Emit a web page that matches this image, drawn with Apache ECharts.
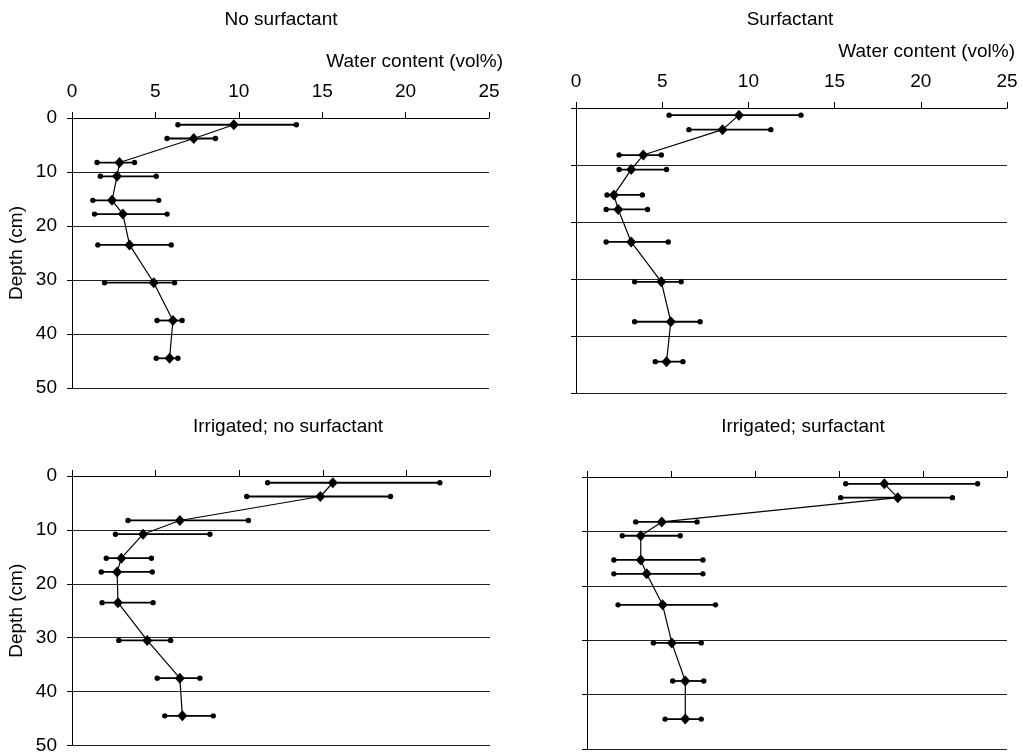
<!DOCTYPE html>
<html>
<head>
<meta charset="utf-8">
<script src="https://cdn.jsdelivr.net/npm/echarts@6/dist/echarts.min.js"></script>
<style>
  html, body { margin: 0; padding: 0; background: #fff; }
  #chart { width: 1023px; height: 755px; }
</style>
</head>
<body>
<div id="chart"></div>
<script>
// ---- data ----
const depth = [1.25, 3.8, 8.25, 10.8, 15.25, 17.8, 23.5, 30.5, 37.5, 44.5];

const noSurfMean = [9.7, 7.3, 2.85, 2.7, 2.4, 3.05, 3.45, 4.9, 6.05, 5.85];
const noSurfLo   = [6.35, 5.7, 1.5, 1.7, 1.25, 1.35, 1.55, 1.95, 5.1, 5.05];
const noSurfHi   = [13.45, 8.6, 3.75, 5.05, 5.2, 5.7, 5.95, 6.15, 6.6, 6.35];

const surfMean = [9.45, 8.5, 3.9, 3.2, 2.2, 2.45, 3.2, 4.95, 5.5, 5.25];
const surfLo   = [5.4, 6.55, 2.5, 2.5, 1.8, 1.75, 1.75, 3.4, 3.4, 4.6];
const surfHi   = [13.05, 11.3, 4.95, 5.25, 3.85, 4.15, 5.35, 6.1, 7.2, 6.2];

const irrNoMean = [15.6, 14.85, 6.45, 4.25, 2.95, 2.7, 2.75, 4.5, 6.45, 6.6];
const irrNoLo   = [11.7, 10.45, 3.35, 2.6, 2.05, 1.75, 1.8, 2.8, 5.1, 5.55];
const irrNoHi   = [22.0, 19.05, 10.55, 8.25, 4.75, 4.8, 4.85, 5.9, 7.65, 8.45];

const irrSurfMean = [17.7, 18.5, 4.45, 3.2, 3.2, 3.55, 4.5, 5.05, 5.85, 5.85];
const irrSurfLo   = [15.4, 15.1, 2.9, 2.1, 1.6, 1.6, 1.85, 3.95, 5.1, 4.65];
const irrSurfHi   = [23.25, 21.75, 6.55, 5.55, 6.9, 6.9, 7.65, 6.8, 6.95, 6.8];

const panelTitles = ["No surfactant", "Surfactant", "Irrigated; no surfactant", "Irrigated; surfactant"];
const xAxisName = "Water content (vol%)";
const yAxisName = "Depth (cm)";

// ---- layout ----
const FONT = "Liberation Sans, Arial, sans-serif";
const FS = 19;
const panels = [
  { mean: noSurfMean, lo: noSurfLo, hi: noSurfHi, grid: { left: 72, top: 118, width: 417, height: 270 }, xLabels: true, yLabels: true },
  { mean: surfMean, lo: surfLo, hi: surfHi, grid: { left: 576, top: 108, width: 431, height: 285 }, xLabels: true, yLabels: false },
  { mean: irrNoMean, lo: irrNoLo, hi: irrNoHi, grid: { left: 72, top: 476, width: 418, height: 270 }, xLabels: false, yLabels: true },
  { mean: irrSurfMean, lo: irrSurfLo, hi: irrSurfHi, grid: { left: 587, top: 477, width: 420, height: 272 }, xLabels: false, yLabels: false }
];

const grids = [], xAxes = [], yAxes = [], series = [];
panels.forEach((p, i) => {
  grids.push(Object.assign({ containLabel: false }, p.grid));
  xAxes.push({
    gridIndex: i, type: 'value', position: 'top', min: 0, max: 25, interval: 5,
    axisLine: { show: true, onZero: false, lineStyle: { color: '#000', width: 1 } },
    axisTick: { show: true, inside: false, length: 6, lineStyle: { color: '#000' } },
    axisLabel: { show: p.xLabels, color: '#000', fontFamily: FONT, fontSize: FS, margin: 17 },
    splitLine: { show: false }
  });
  yAxes.push({
    gridIndex: i, type: 'value', inverse: true, min: 0, max: 50, interval: 10,
    axisLine: { show: true, onZero: false, lineStyle: { color: '#000', width: 1 } },
    axisTick: { show: true, inside: false, length: 5, lineStyle: { color: '#000' } },
    axisLabel: { show: p.yLabels, color: '#000', fontFamily: FONT, fontSize: FS, margin: 15 },
    splitLine: { show: true, lineStyle: { color: '#222', width: 1 } },
    name: p.yLabels ? yAxisName : '',
    nameLocation: 'middle', nameRotate: 90, nameGap: 46,
    nameTextStyle: { color: '#000', fontFamily: FONT, fontSize: FS }
  });
  const errData = p.mean.map((m, k) => [p.lo[k], p.hi[k], depth[k]]);
  series.push({
    type: 'custom', xAxisIndex: i, yAxisIndex: i,
    encode: { x: [0, 1], y: 2 },
    data: errData,
    z: 2,
    renderItem: function (params, api) {
      const a = api.coord([api.value(0), api.value(2)]);
      const b = api.coord([api.value(1), api.value(2)]);
      return {
        type: 'group',
        children: [
          { type: 'line', shape: { x1: a[0], y1: a[1], x2: b[0], y2: b[1] }, style: { stroke: '#000', lineWidth: 1.8 } },
          { type: 'circle', shape: { cx: a[0], cy: a[1], r: 2.7 }, style: { fill: '#000' } },
          { type: 'circle', shape: { cx: b[0], cy: b[1], r: 2.7 }, style: { fill: '#000' } }
        ]
      };
    }
  });
  series.push({
    type: 'line', xAxisIndex: i, yAxisIndex: i,
    data: p.mean.map((m, k) => [m, depth[k]]),
    symbol: 'diamond', symbolSize: [10, 11],
    itemStyle: { color: '#000' },
    lineStyle: { color: '#000', width: 1.2 },
    z: 3, animation: false
  });
});

const textStyle = { fill: '#000', font: FS + 'px ' + FONT };
const graphics = [
  { type: 'text', style: Object.assign({ text: panelTitles[0], x: 281, y: 20, textAlign: 'center', textVerticalAlign: 'middle' }, textStyle) },
  { type: 'text', style: Object.assign({ text: panelTitles[1], x: 790, y: 20, textAlign: 'center', textVerticalAlign: 'middle' }, textStyle) },
  { type: 'text', style: Object.assign({ text: panelTitles[2], x: 288, y: 427, textAlign: 'center', textVerticalAlign: 'middle' }, textStyle) },
  { type: 'text', style: Object.assign({ text: panelTitles[3], x: 803, y: 427, textAlign: 'center', textVerticalAlign: 'middle' }, textStyle) },
  { type: 'text', style: Object.assign({ text: xAxisName, x: 503, y: 62, textAlign: 'right', textVerticalAlign: 'middle' }, textStyle) },
  { type: 'text', style: Object.assign({ text: xAxisName, x: 1015, y: 52, textAlign: 'right', textVerticalAlign: 'middle' }, textStyle) }
];

const chart = echarts.init(document.getElementById('chart'), null, { renderer: 'canvas' });
chart.setOption({
  animation: false,
  backgroundColor: '#fff',
  grid: grids, xAxis: xAxes, yAxis: yAxes, series: series,
  graphic: graphics
});
</script>
</body>
</html>
